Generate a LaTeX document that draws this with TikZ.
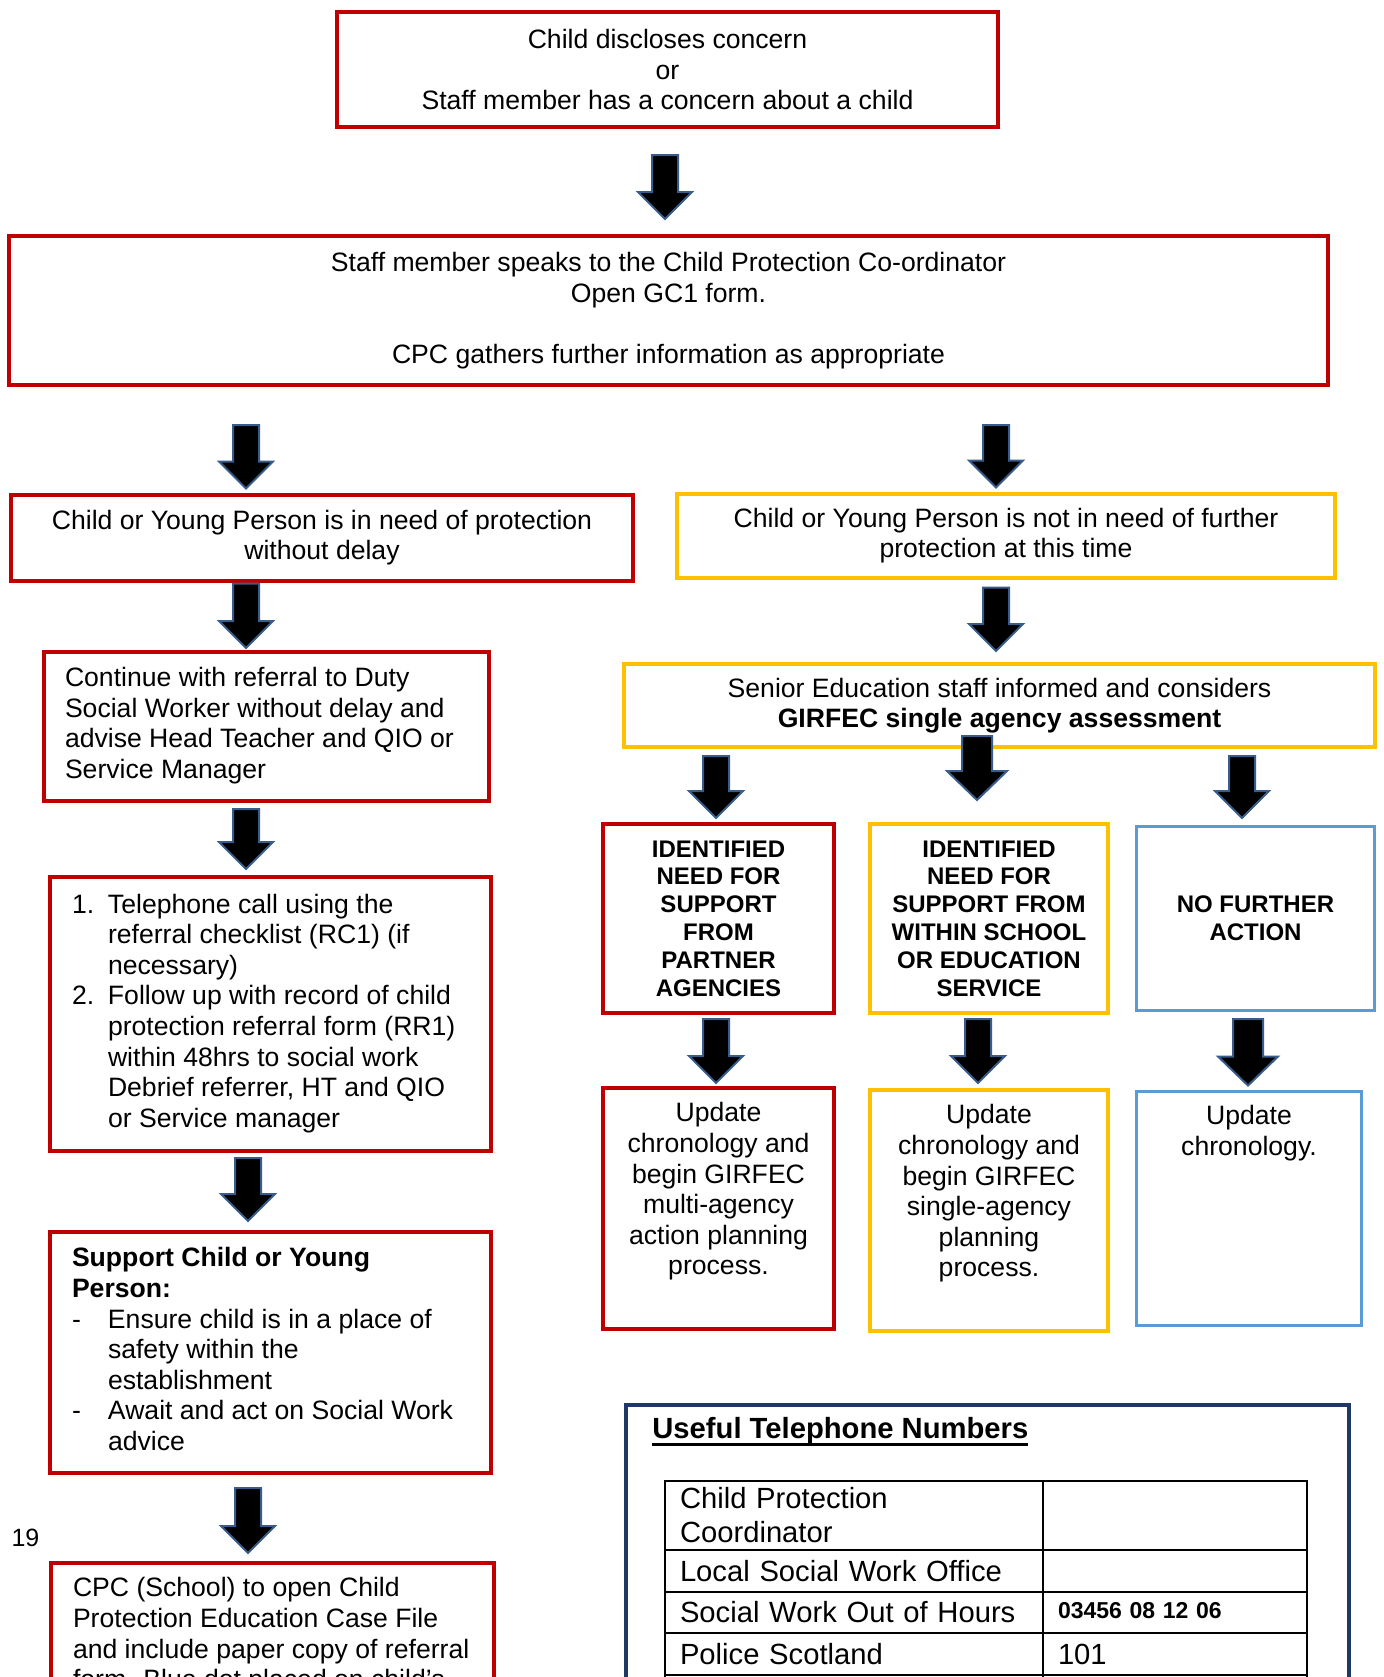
\documentclass[tikz,border=0pt]{standalone}
\usepackage{fontspec}
\setmainfont{Liberation Sans}
\usetikzlibrary{calc}
\definecolor{cpred}{RGB}{192,0,0}
\definecolor{cpyel}{RGB}{255,192,0}
\definecolor{cpblue}{RGB}{91,155,213}
\definecolor{arrowblue}{RGB}{56,93,138}
\definecolor{cpnavy}{RGB}{31,56,100}
\newcommand\fmain{\fontsize{13.3}{15.3}\selectfont}
\newcommand\fcaps{\fontsize{12}{13.9}\selectfont\bfseries}
\newcommand\ftab{\fontsize{14.6}{17}\selectfont}
\newcommand\hang{\hspace*{18pt}}
\newcommand\lab[1]{\makebox[18pt][l]{#1}}
\newcommand\myul[1]{\setbox0\hbox{#1}\rlap{\rule[-3.9pt]{\wd0}{1.6pt}}\box0}
\tikzset{
  boxbase/.style={line width=2pt, fill=white, font=\fmain, inner sep=2pt},
  rbox/.style={boxbase, draw=cpred},
  ybox/.style={boxbase, draw=cpyel},
  bbox/.style={boxbase, draw=cpblue, line width=1.5pt},
  ctext/.style={align=center},
  topbox/.style={anchor=north, inner xsep=0pt, inner ysep=6.25pt},
  cell/.style={draw=black, line width=1pt, anchor=north west, inner xsep=7.5pt,
    inner ysep=1pt, align=left, font=\ftab},
  blockarr/.style n args={5}{fill=black, draw=arrowblue, line width=1pt, line join=miter,
    to path={let \p1=(\tikztostart), \p2=(\tikztotarget) in
      ({\x1-#3},{\y1-(#1)*0.5pt}) -- ({\x1+#3},{\y1-(#1)*0.5pt})
      -- ({\x1+#3},{\y2+(#2)*0.5pt+#5}) -- ({\x1+#4},{\y2+(#2)*0.5pt+#5})
      -- ({\x1},{\y2+(#2)*0.5pt})
      -- ({\x1-#4},{\y2+(#2)*0.5pt+#5}) -- ({\x1-#3},{\y2+(#2)*0.5pt+#5}) -- cycle}},
  sarr/.style 2 args={blockarr={#1}{#2}{6.5pt}{13.5pt}{13.5pt}},
  barr/.style 2 args={blockarr={#1}{#2}{7.5pt}{15pt}{14.5pt}},
}
\begin{document}
\begin{tikzpicture}[x=0.5pt,y=-0.5pt]
\fill[white] (0,0) rectangle (1383,1677);
\useasboundingbox (0,0) rectangle (1383,1677);

% arrow columns
\coordinate (xT) at (665,0);
\coordinate (xL) at (246,0);
\coordinate (xL2) at (248,0);
\coordinate (xR) at (996,0);
\coordinate (x1) at (716,0);
\coordinate (x2) at (977,0);
\coordinate (x2b) at (978,0);
\coordinate (x3) at (1242,0);
\coordinate (x3b) at (1248,0);

% main flow
\node[rbox, ctext, minimum width=330.5pt, minimum height=57.5pt] (top) at (667.5,69.5)
  {Child discloses concern\\or\\Staff member has a concern about a child};
\node[rbox, ctext, minimum width=659.5pt, minimum height=74.5pt] (cpc) at (668.5,310.5)
  {Staff member speaks to the Child Protection Co-ordinator\\Open GC1 form.\\[\baselineskip]CPC gathers further information as appropriate};
\node[rbox, ctext, minimum width=311pt, minimum height=43pt] (need) at (322,537.5)
  {Child or Young Person is in need of protection\\without delay};
\node[ybox, ctext, minimum width=329pt, minimum height=42pt] (noneed) at (1006,535.5)
  {Child or Young Person is not in need of further\\protection at this time};

% left column
\node[rbox, inner xsep=10.5pt, minimum height=74.5pt] (cont) at (266.5,726.5)
  {\makebox[201.5pt][l]{\begin{tabular}{@{}l@{}}Continue with referral to Duty\\Social Worker without delay and\\advise Head Teacher and QIO or\\Service Manager\end{tabular}}};
\node[rbox, inner xsep=11pt, minimum height=137pt] (tel) at (270.5,1014)
  {\makebox[198.5pt][l]{\begin{tabular}{@{}l@{}}\lab{1.}Telephone call using the\\
  \hang referral checklist (RC1) (if\\
  \hang necessary)\\
  \lab{2.}Follow up with record of child\\
  \hang protection referral form (RR1)\\
  \hang within 48hrs to social work\\
  \hang Debrief referrer, HT and QIO\\
  \hang or Service manager\end{tabular}}};
\node[rbox, inner xsep=11pt, minimum height=120.5pt] (sup) at (270.5,1352.5)
  {\makebox[198.5pt][l]{\begin{tabular}{@{}l@{}}\textbf{Support Child or Young}\\
  \textbf{Person:}\\
  \lab{-}Ensure child is in a place of\\
  \hang safety within the\\
  \hang establishment\\
  \lab{-}Await and act on Social Work\\
  \hang advice\end{tabular}}};
\node[rbox, anchor=north, inner xsep=11pt, inner ysep=6.25pt] (file) at (272.5,1561)
  {\parbox[c][200pt][t]{199.5pt}{\begin{tabular}[t]{@{}l@{}}CPC (School) to open Child\\
  Protection Education Case File\\
  and include paper copy of referral\\
  form. Blue dot placed on child’s\end{tabular}}};
\node[font=\fontsize{12.5}{15}\selectfont, inner sep=0pt] (pnum) at (25.5,1538) {19};

% right column
\node[ybox, ctext, minimum width=375.5pt, minimum height=41.5pt] (senior) at (999.5,705.5)
  {Senior Education staff informed and considers\\\textbf{GIRFEC single agency assessment}};
\node[rbox, ctext, font=\fcaps, minimum width=115.5pt, minimum height=94.5pt] (partner) at (718.5,918.5)
  {IDENTIFIED\\NEED FOR\\SUPPORT\\FROM\\PARTNER\\AGENCIES};
\node[ybox, ctext, font=\fcaps, minimum width=119pt, minimum height=94.5pt] (school) at (989,918.5)
  {IDENTIFIED\\NEED FOR\\SUPPORT FROM\\WITHIN SCHOOL\\OR EDUCATION\\SERVICE};
\node[bbox, ctext, font=\fcaps, minimum width=119pt, minimum height=92pt] (nfa) at (1255.5,918.5)
  {NO FURTHER\\ACTION};
\node[rbox, topbox] (multi) at (718.5,1086)
  {\parbox[c][108pt][t]{115.5pt}{\centering\begin{tabular}[t]{@{}c@{}}Update\\chronology and\\begin GIRFEC\\multi-agency\\action planning\\process.\end{tabular}}};
\node[ybox, topbox] (single) at (989,1088)
  {\parbox[c][108pt][t]{119pt}{\centering\begin{tabular}[t]{@{}c@{}}Update\\chronology and\\begin GIRFEC\\single-agency\\planning\\process.\end{tabular}}};
\node[bbox, topbox] (chron) at (1249,1089.5)
  {\parbox[c][104.5pt][t]{112.5pt}{\centering\begin{tabular}[t]{@{}c@{}}Update\\chronology.\end{tabular}}};

% telephone numbers
\node[draw=cpnavy, line width=2pt, anchor=north west, minimum width=361.5pt,
  minimum height=250pt, inner sep=0pt] (phones) at (624,1403) {};
\node[anchor=base west, font=\ftab\bfseries, inner sep=0pt] (title) at (652,1438)
  {\myul{Useful Telephone Numbers}};
\node[cell, text width=174pt, minimum height=34.5pt] (c11) at (664,1480) {Child Protection\\Coordinator};
\node[cell, text width=117pt, minimum height=34.5pt] (c12) at (1042,1480) {};
\node[cell, text width=174pt, minimum height=21pt] (c21) at (664,1549) {Local Social Work Office};
\node[cell, text width=117pt, minimum height=21pt] (c22) at (1042,1549) {};
\node[cell, text width=174pt, minimum height=20.5pt] (c31) at (664,1591) {Social Work Out of Hours};
\node[cell, text width=117pt, minimum height=20.5pt, font=\fontsize{11.5}{13}\selectfont\bfseries] (c32) at (1042,1591) {\raisebox{2pt}{03456 08 12 06}};
\node[cell, text width=174pt, minimum height=21pt] (c41) at (664,1632) {Police Scotland};
\node[cell, text width=117pt, minimum height=21pt] (c42) at (1042,1632) {101};
\node[cell, text width=174pt, minimum height=23pt] (c51) at (664,1674) {};
\node[cell, text width=117pt, minimum height=23pt] (c52) at (1042,1674) {};

% block arrows
\draw[sarr={26}{15}] (top.south -| xT) to (cpc.north -| xT);
\draw[sarr={38}{4}] (cpc.south -| xL) to (need.north -| xL);
\draw[sarr={38}{4}] (cpc.south -| xR) to (noneed.north -| xR);
\draw[sarr={1}{2}] (need.south -| xL) to (cont.north -| xL);
\draw[sarr={8}{11}] (noneed.south -| xR) to (senior.north -| xR);
\draw[sarr={6}{6}] (cont.south -| xL) to (tel.north -| xL);
\draw[sarr={5}{9}] (tel.south -| xL2) to (sup.north -| xL2);
\draw[sarr={13}{8}] (sup.south -| xL2) to (file.north -| xL2);
\draw[sarr={7}{4}] (senior.south -| x1) to (partner.north -| x1);
\draw[barr={-13}{22}] (senior.south -| x2) to (school.north -| x2);
\draw[sarr={7}{7}] (senior.south -| x3) to (nfa.north -| x3);
\draw[sarr={4}{3}] (partner.south -| x1) to (multi.north -| x1);
\draw[sarr={4}{5}] (school.south -| x2b) to (single.north -| x2b);
\draw[barr={7}{4}] (nfa.south -| x3b) to (chron.north -| x3b);
\end{tikzpicture}
\end{document}
